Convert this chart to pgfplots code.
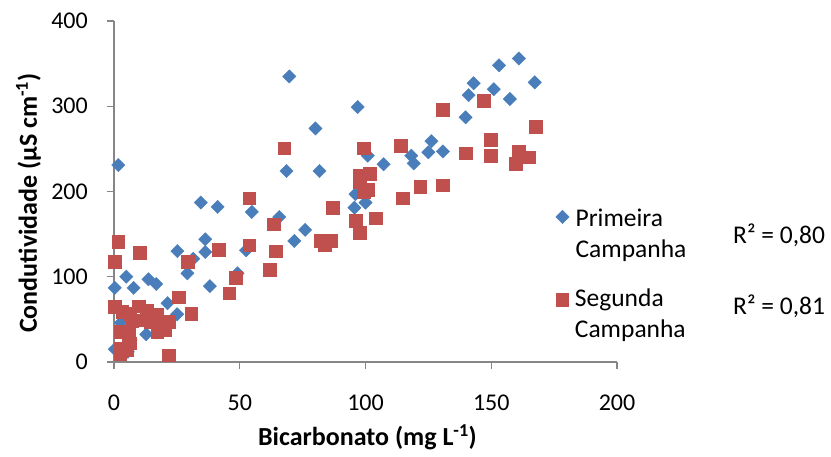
\documentclass[border=0pt]{standalone}
\usepackage{fontspec}
\setmainfont{Carlito}
\usepackage{pgfplots}
\pgfplotsset{compat=1.18}
\usepackage{pgfplotstable}

\definecolor{campA}{RGB}{74,126,187}
\definecolor{campB}{RGB}{192,80,77}
\definecolor{axisgray}{RGB}{134,134,134}

% common frame for both layers (blue series, red series on top)
\pgfplotsset{
  frame/.style={
    at={(0pt,0pt)}, anchor=south west,
    scale only axis, width=503pt, height=341pt,
    xmin=0, xmax=200, ymin=0, ymax=400,
    clip=false,
  },
  legendbox/.style={
    legend cell align=left,
    legend style={anchor=north west,
      draw=none, fill=none, inner sep=0pt,
      font=\fontsize{25.5}{31.7}\selectfont,
      column sep=6.5pt, nodes={inner sep=0pt}},
  },
}

% Primeira campanha: bicarbonato (mg/L) vs condutividade (uS/cm)
\pgfplotstableread{
x y
1.7 231
0.3 87
7.8 87
4.9 100
13.7 97
16.8 91.5
21.3 69
25.1 56
2.7 46
12.8 32.5
0.3 15
5.5 12
6.6 26
25.2 130
29.2 104
31.5 121
34.5 187
41.2 182
36.3 144
36.3 129
38.1 89
49.1 104
52.5 131
54.8 176
65.7 170
71.7 142
76.0 155
68.6 224
69.7 335
80.1 274
81.7 224
96.9 299
96.0 197
95.6 181
100.0 187
100.9 242
107.2 232
118.2 242
119.2 233
126.2 259
125.0 246
130.8 247
139.8 287
141.0 313
143.0 327
151.0 320
153.1 348
161.0 356
167.3 328
157.4 308.5
}\primeira

% Segunda campanha
\pgfplotstableread{
x y
1.6 141
10.1 128
0.3 118
0.3 65
3.2 59
9.8 65.5
13.1 60
6.5 57
16.9 56
10.5 49
7.2 48.5
21.8 47
18.4 45
14.5 47
17.1 35.5
20.4 37.5
2.5 35.5
5.9 31.7
6.5 22
2.5 16
5.2 14
2.5 10
21.8 8
25.8 76
30.7 57
29.2 118
41.6 131.5
48.5 99
45.8 80.5
53.8 192
53.8 137
63.4 161.5
64.2 130
62.0 108.5
67.7 251
87.0 181
82.3 142
86.3 142
83.7 137
96.0 166
97.6 152
104.0 168.5
99.3 200
101.0 202
97.6 211.5
97.6 218.5
101.6 221
99.2 251
114.0 254
114.9 192
121.8 205.5
130.8 207.6
130.8 296
139.8 245
147.1 306.5
149.8 260.5
149.8 242
161.0 247.5
165.0 240
159.8 232.3
167.7 276
}\segunda

\begin{document}
\begin{tikzpicture}
\path[use as bounding box] (-114pt,-95pt) rectangle (717pt,362pt);
% axes, ticks and the first campaign
\begin{axis}[
  frame, legendbox,
  xtick={0,50,...,200}, ytick={0,100,...,400},
  axis lines=left,
  axis line style={-, draw=axisgray, line width=1.3pt},
  tick align=outside, major tick length=7pt,
  tick style={draw=axisgray, line width=1.3pt},
  /pgf/number format/assume math mode=true,
  tick label style={font=\fontsize{24}{28}\selectfont},
  xticklabel style={anchor=north, inner sep=0pt, yshift=-26pt},
  yticklabel style={anchor=east, inner sep=0pt, xshift=-19pt},
  legend style={at={(axis cs:175.6,185.5)}},
]
\addplot[only marks, mark=square*, mark size=4.7pt,
  mark options={rotate=45, fill=campA, draw=campA},
  legend image post style={yshift=-1pt}] table[x=x,y=y] {\primeira};
\addlegendentry{\begin{tabular}[t]{@{}l@{}}Primeira\\Campanha\end{tabular}}
\end{axis}
% second campaign, drawn on top
\begin{axis}[
  frame, legendbox, hide axis,
  legend style={at={(axis cs:175.6,91.7)}},
]
\addplot[only marks, mark=square*, mark size=6.3pt,
  mark options={fill=campB, draw=campB},
  legend image post style={yshift=-4pt}] table[x=x,y=y] {\segunda};
\addlegendentry{\begin{tabular}[t]{@{}l@{}}Segunda\\Campanha\end{tabular}}
\end{axis}
\node[rotate=90, anchor=base, inner sep=0pt,
  font=\bfseries\fontsize{26}{30}\selectfont] at (-77pt,159pt)
  {Condutividade (µS cm\textsuperscript{-1})};
\node[anchor=base, inner sep=0pt,
  font=\bfseries\fontsize{26}{30}\selectfont] at (253.5pt,-84pt)
  {Bicarbonato (mg L\textsuperscript{-1})};
\node[anchor=base west, inner sep=0pt, font=\fontsize{25.5}{30}\selectfont]
  at (619pt,118.7pt) {R² = 0,80};
\node[anchor=base west, inner sep=0pt, font=\fontsize{25.5}{30}\selectfont]
  at (619pt,47pt) {R² = 0,81};
\end{tikzpicture}
\end{document}
